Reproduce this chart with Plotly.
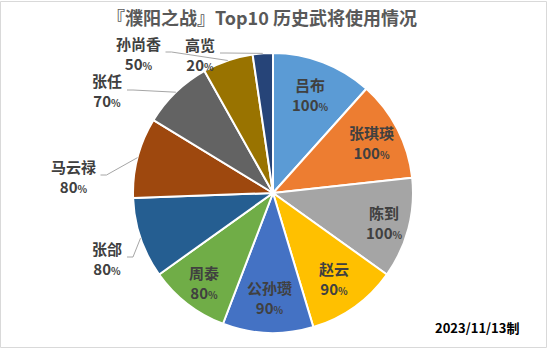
import math
import plotly.graph_objects as go

# ---------------- data ----------------
names = ["吕布", "张琪瑛", "陈到", "赵云", "公孙瓒", "周泰", "张郃", "马云禄", "张任", "孙尚香", "高览"]
usage = [100, 100, 100, 90, 90, 80, 80, 80, 70, 50, 20]
title_text = "『濮阳之战』Top10 历史武将使用情况"
date_text = "2023/11/13制"

# ---------------- style / layout ----------------
colors = ["#5B9BD5", "#ED7D31", "#A5A5A5", "#FFC000", "#4472C4", "#70AD47",
          "#255E91", "#9E480E", "#636363", "#997300", "#264478"]
W, H = 550, 349
CX, CY, R = 273, 193, 140          # pie centre / radius in pixels
TXT = "#404040"
FS = 15

# inside labels: radial fraction; outside labels: text centre (pixels)
inside_frac = [0.75, 0.79, 0.82, 0.75, 0.75, 0.81]
outside_pos = {6: (107, 258), 7: (73, 176), 8: (107, 91), 9: (138, 53), 10: (200, 54)}


def px(x):
    return x / W


def py(y):
    return 1 - y / H


fig = go.Figure(go.Pie(
    labels=names, values=usage, sort=False, direction="clockwise", rotation=0,
    marker=dict(colors=colors, line=dict(color="white", width=2)),
    textinfo="none", hoverinfo="label+value", showlegend=False,
    domain=dict(x=[px(CX - R), px(CX + R)], y=[py(CY + R), py(CY - R)]),
))

total = sum(usage)
annotations = []
shapes = []
cum = 0
for i, (n, v) in enumerate(zip(names, usage)):
    mid = (cum + v / 2) / total * 2 * math.pi
    cum += v
    label = f"{n}<br>{v}<span style='font-size:10px'>%</span>"
    if i in outside_pos:
        tx, ty = outside_pos[i]
        half = max(len(n) * FS, 30) / 2
        sx = tx + half + 5
        sy = ty - 1
        ex = CX + R * math.sin(mid)
        ey = CY - R * math.cos(mid)
        bx = sx + 6
        path = f"M {px(sx)},{py(sy)} L {px(bx)},{py(sy)} L {px(ex)},{py(ey)}"
        shapes.append(dict(type="path", path=path, xref="paper", yref="paper",
                           line=dict(color="#A6A6A6", width=1)))
    else:
        f = inside_frac[i]
        tx = CX + f * R * math.sin(mid)
        ty = CY - f * R * math.cos(mid)
    annotations.append(dict(x=px(tx), y=py(ty), xref="paper", yref="paper", text=label,
                            xanchor="center", yanchor="middle",
                            showarrow=False, font=dict(size=FS, color=TXT, weight="bold"),
                            align="center"))

annotations.append(dict(x=px(262), y=py(17), xref="paper", yref="paper", text=title_text,
                        xanchor="center", yanchor="middle",
                        showarrow=False, font=dict(size=18, color="#595959", weight="bold")))
annotations.append(dict(x=px(477), y=py(327), xref="paper", yref="paper", text=date_text,
                        xanchor="center", yanchor="middle",
                        showarrow=False, font=dict(size=13, color="#000000", weight="bold")))

shapes.append(dict(type="rect", xref="paper", yref="paper", x0=px(0.5), x1=px(546.5),
                   y0=py(347.5), y1=py(1.5), line=dict(color="#D9D9D9", width=1)))

fig.update_layout(
    width=W, height=H, autosize=False,
    margin=dict(l=0, r=0, t=0, b=0),
    paper_bgcolor="white", plot_bgcolor="white",
    font=dict(family="Noto Sans CJK SC, sans-serif", color=TXT),
    annotations=annotations, shapes=shapes,
)

fig.write_html("out.html")
